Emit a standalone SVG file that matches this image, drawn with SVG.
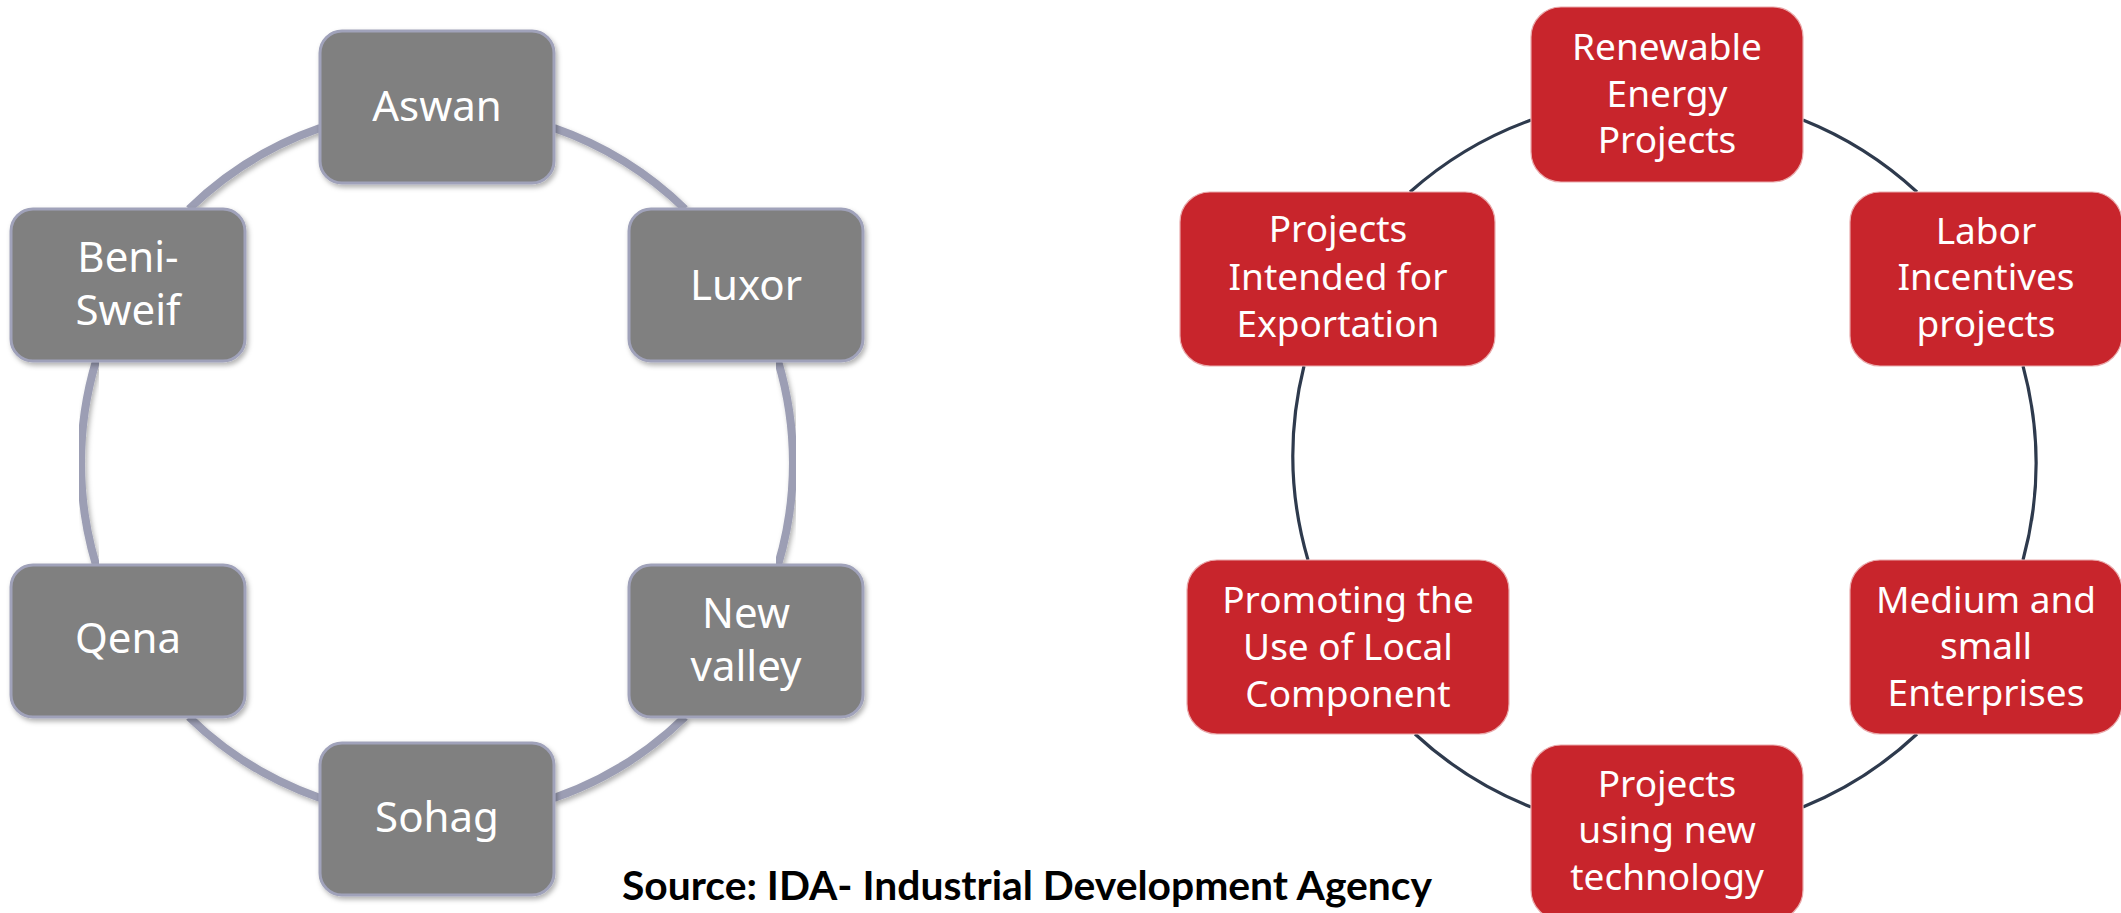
<svg xmlns="http://www.w3.org/2000/svg" width="2121" height="913" viewBox="0 0 2121 913">
  <defs>
    <filter id="soft" x="-10%" y="-10%" width="125%" height="130%">
      <feDropShadow dx="2" dy="3" stdDeviation="2.5" flood-color="#000" flood-opacity="0.3"/>
    </filter>
    <style>
      .ring-g { fill: none; stroke: #9c9eb4; stroke-width: 8; filter: url(#soft); }
      .ring-r { fill: none; stroke: #2e3a4d; stroke-width: 3.2; }
      .box-g { fill: #808080; stroke: #a0a2ba; stroke-width: 3; filter: url(#soft); }
      .box-r { fill: #c8252c; stroke: #e9a9ab; stroke-width: 1.2; }
      .lbl-g { font-family: "Noto Sans", "Open Sans", sans-serif; font-size: 42px; fill: #ffffff; text-anchor: middle; }
      .lbl-r { font-family: "Noto Sans", "Open Sans", sans-serif; font-size: 37px; fill: #ffffff; text-anchor: middle; }
      .src { font-family: Lato, "Open Sans", sans-serif; font-weight: bold; font-size: 41px; fill: #000000; }
    </style>
  </defs>
  <rect width="2121" height="913" fill="#ffffff"/>

  <!-- left cycle: connector arcs -->
  <g id="connectors-left">
    <path class="ring-g" d="M320,128 A355,355 0 0 0 189,209"/>
    <path class="ring-g" d="M96,361 A355,355 0 0 0 96,565"/>
    <path class="ring-g" d="M189,717 A355,355 0 0 0 320,798"/>
    <path class="ring-g" d="M554,798 A355,355 0 0 0 685,717"/>
    <path class="ring-g" d="M778,565 A355,355 0 0 0 778,361"/>
    <path class="ring-g" d="M685,209 A355,355 0 0 0 554,128"/>
  </g>

  <!-- right cycle: connector arcs -->
  <g id="connectors-right">
    <path class="ring-r" d="M1531,120 A371,371 0 0 0 1410,192"/>
    <path class="ring-r" d="M1304,366 A371,371 0 0 0 1308,560"/>
    <path class="ring-r" d="M1415,734 A371,371 0 0 0 1531,807"/>
    <path class="ring-r" d="M1803,807 A371,371 0 0 0 1917,734"/>
    <path class="ring-r" d="M2023,560 A371,371 0 0 0 2023,366"/>
    <path class="ring-r" d="M1917,192 A371,371 0 0 0 1803,120"/>
  </g>

  <!-- governorates -->
  <g id="aswan">
    <rect class="box-g" x="320" y="31" width="234" height="152" rx="22"/>
    <text class="lbl-g" x="437" y="121">Aswan</text>
  </g>
  <g id="luxor">
    <rect class="box-g" x="629" y="209" width="234" height="152" rx="22"/>
    <text class="lbl-g" x="746" y="300">Luxor</text>
  </g>
  <g id="new-valley">
    <rect class="box-g" x="629" y="565" width="234" height="152" rx="22"/>
    <text class="lbl-g" x="746" y="628">New</text>
    <text class="lbl-g" x="746" y="681">valley</text>
  </g>
  <g id="sohag">
    <rect class="box-g" x="320" y="743" width="234" height="152" rx="22"/>
    <text class="lbl-g" x="437" y="832">Sohag</text>
  </g>
  <g id="qena">
    <rect class="box-g" x="11" y="565" width="234" height="152" rx="22"/>
    <text class="lbl-g" x="128" y="653">Qena</text>
  </g>
  <g id="beni-sweif">
    <rect class="box-g" x="11" y="209" width="234" height="152" rx="22"/>
    <text class="lbl-g" x="128" y="272">Beni-</text>
    <text class="lbl-g" x="128" y="325">Sweif</text>
  </g>

  <!-- project categories -->
  <g id="renewable">
    <rect class="box-r" x="1531" y="7" width="272" height="175" rx="30"/>
    <text class="lbl-r" x="1667" y="60">Renewable</text>
    <text class="lbl-r" x="1667" y="107">Energy</text>
    <text class="lbl-r" x="1667" y="153">Projects</text>
  </g>
  <g id="labor">
    <rect class="box-r" x="1850" y="192" width="272" height="174" rx="30"/>
    <text class="lbl-r" x="1986" y="244">Labor</text>
    <text class="lbl-r" x="1986" y="290">Incentives</text>
    <text class="lbl-r" x="1986" y="337">projects</text>
  </g>
  <g id="medium-small">
    <rect class="box-r" x="1850" y="560" width="272" height="174" rx="30"/>
    <text class="lbl-r" x="1986" y="613">Medium and</text>
    <text class="lbl-r" x="1986" y="659">small</text>
    <text class="lbl-r" x="1986" y="706">Enterprises</text>
  </g>
  <g id="new-technology">
    <rect class="box-r" x="1531" y="745" width="272" height="175" rx="30"/>
    <text class="lbl-r" x="1667" y="797">Projects</text>
    <text class="lbl-r" x="1667" y="843">using new</text>
    <text class="lbl-r" x="1667" y="890">technology</text>
  </g>
  <g id="local-component">
    <rect class="box-r" x="1187" y="560" width="322" height="174" rx="30"/>
    <text class="lbl-r" x="1348" y="613">Promoting the</text>
    <text class="lbl-r" x="1348" y="660">Use of Local</text>
    <text class="lbl-r" x="1348" y="707">Component</text>
  </g>
  <g id="exportation">
    <rect class="box-r" x="1180" y="192" width="315" height="174" rx="30"/>
    <text class="lbl-r" x="1338" y="242">Projects</text>
    <text class="lbl-r" x="1338" y="290">Intended for</text>
    <text class="lbl-r" x="1338" y="337">Exportation</text>
  </g>

  <text class="src" x="622" y="900" textLength="810" lengthAdjust="spacingAndGlyphs">Source: IDA- Industrial Development Agency</text>
</svg>
